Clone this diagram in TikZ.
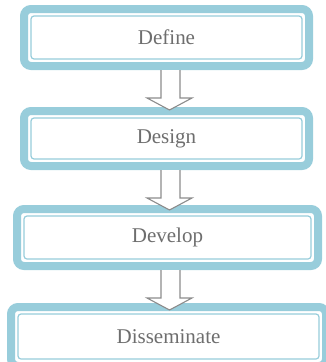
\documentclass[tikz,border=0pt]{standalone}
\usepackage{fontspec}
\setmainfont{Liberation Serif}
\usetikzlibrary{calc}
\definecolor{band}{HTML}{98CDDB}
\definecolor{txt}{HTML}{6E6E6E}
\definecolor{arr}{HTML}{8C8C8C}
\newcommand\stagearrow[1]{%
  \filldraw[barrow] (161,#1) -- (161,#1+28) -- (147,#1+28) -- (169.5,#1+40) -- (192,#1+28) -- (180,#1+28) -- (180,#1);
  \fill[white] (161.6,#1) rectangle (179.4,#1+27);
}
\begin{document}
\begin{tikzpicture}[x=1pt,y=-1pt,
  stage/.style={draw=band, line width=8pt, rounded corners=7pt, fill=white, text=txt,
    font=\fontsize{21}{24}\selectfont, inner sep=0pt, outer sep=0pt},
  innerline/.style={draw=band, line width=1.2pt, rounded corners=3pt},
  barrow/.style={draw=arr, line width=1.1pt, fill=white, line join=miter}]
\useasboundingbox (0,0) rectangle (326,362);
\node[stage, minimum width=285pt, minimum height=57pt] (b1) at (166.5,37.5) {Define};
\node[stage, minimum width=285pt, minimum height=55pt] (b2) at (166.5,138.5) {Design};
\node[stage, minimum width=301pt, minimum height=57pt] (b3) at (167.5,237.5) {Develop};
\node[stage, minimum width=315pt, minimum height=59pt] (b4) at (168.5,336.5) {Disseminate};
\foreach \b in {b1,b2,b3,b4}{
  \draw[innerline] ($(\b.north west)+(7,7)$) rectangle ($(\b.south east)+(-7,-7)$);
}
\stagearrow{70}
\stagearrow{170}
\stagearrow{270}
\end{tikzpicture}
\end{document}
